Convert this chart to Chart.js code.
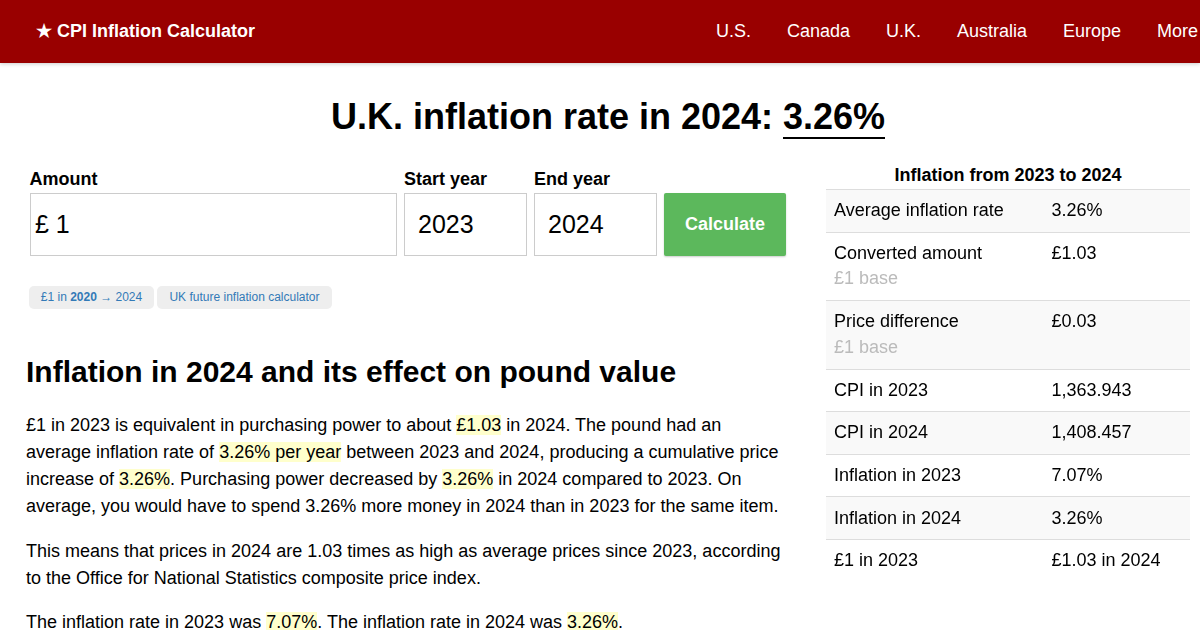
<!DOCTYPE html>
<html lang="en">
<head>
  <meta charset="UTF-8" />
  <title>U.K. inflation rate in 2024: 3.26%</title>
  <script src="https://cdn.jsdelivr.net/npm/chart.js"></script>
  <style>
    html, body { margin: 0; padding: 0; width: 1200px; height: 630px; overflow: hidden; background: #fff; }
    body { font: 18px/27px "Liberation Sans", Arial, sans-serif; color: #000; position: relative; }
    .abs { position: absolute; white-space: nowrap; }
    #nav { left: 0; top: 0; width: 1200px; height: 63px; background: #990000; color: #fff; box-shadow: 0 1px 4px rgba(0,0,0,.2); }
    #brand { left: 36px; top: 18px; font-weight: bold; }
    .link { top: 18px; }
    h1 { margin: 0; left: 0; top: 94px; font-size: 36px; line-height: 46px; text-align: center; width: 1216px; }
    h1 span { border-bottom: 2px solid #000; }
    label { font-weight: bold; top: 166px; }
    .box { top: 193px; height: 61px; border: 1px solid #ccc; font-size: 25px; line-height: 61px; box-sizing: content-box; }
    #calc { left: 664px; top: 193px; width: 122px; height: 63px; line-height: 62px; background: #5cb85c; color: #fff; font-weight: bold; text-align: center; border-radius: 2px; box-shadow: 0 1px 2px rgba(0,0,0,.2); }
    .tag { top: 286px; height: 23px; line-height: 22px; font-size: 12px; color: #337ab7; background: #eee; border-radius: 5px; text-align: center; }
    h2 { margin: 0; left: 26px; top: 353px; font-size: 30px; line-height: 38px; }
    p { margin: 0; left: 26px; }
    mark { background: #ffc; color: inherit; }
    #tableTitle { left: 826px; width: 364px; top: 162px; text-align: center; font-weight: bold; }
    canvas { position: absolute; left: 826px; }
  </style>
</head>
<body>
  <div id="nav" class="abs"></div>
  <div id="brand" class="abs" style="color:#fff">★ CPI Inflation Calculator</div>
  <div class="abs link" style="left:716px;color:#fff">U.S.</div>
  <div class="abs link" style="left:787px;color:#fff">Canada</div>
  <div class="abs link" style="left:886px;color:#fff">U.K.</div>
  <div class="abs link" style="left:957px;color:#fff">Australia</div>
  <div class="abs link" style="left:1063px;color:#fff">Europe</div>
  <div class="abs link" style="left:1157px;color:#fff">More</div>

  <h1 class="abs">U.K. inflation rate in 2024: <span>3.26%</span></h1>

  <label class="abs" style="left:29.5px">Amount</label>
  <label class="abs" style="left:404px">Start year</label>
  <label class="abs" style="left:534px">End year</label>
  <div class="abs box" style="left:30px;width:365px;text-indent:4px">£ 1</div>
  <div class="abs box" style="left:404px;width:121px;text-indent:13px">2023</div>
  <div class="abs box" style="left:534px;width:121px;text-indent:13px">2024</div>
  <div id="calc" class="abs">Calculate</div>

  <div class="abs tag" style="left:29px;width:125px">£1 in <b>2020</b> → 2024</div>
  <div class="abs tag" style="left:157px;width:175px">UK future inflation calculator</div>

  <h2 class="abs">Inflation in 2024 and its effect on pound value</h2>

  <p class="abs" style="top:412px">£1 in 2023 is equivalent in purchasing power to about <mark>£1.03</mark> in 2024. The pound had an<br>average inflation rate of <mark>3.26% per year</mark> between 2023 and 2024, producing a cumulative price<br>increase of <mark>3.26%</mark>. Purchasing power decreased by <mark>3.26%</mark> in 2024 compared to 2023. On<br>average, you would have to spend 3.26% more money in 2024 than in 2023 for the same item.</p>
  <p class="abs" style="top:538px">This means that prices in 2024 are 1.03 times as high as average prices since 2023, according<br>to the Office for National Statistics composite price index.</p>
  <p class="abs" style="top:609px">The inflation rate in 2023 was <mark>7.07%</mark>. The inflation rate in 2024 was <mark>3.26%</mark>.</p>

  <div id="tableTitle" class="abs">Inflation from 2023 to 2024</div>
  <canvas id="rowsTop" style="top:189px;width:364px;height:44px" width="364" height="44"></canvas>
  <canvas id="rowsTall" style="top:232px;width:364px;height:137px" width="364" height="137"></canvas>
  <canvas id="rowsRest" style="top:369px;width:364px;height:213px" width="364" height="213"></canvas>

  <script>
    // the side table is the only data on this page, so chart.js draws that
    const rowLabels = ['Average inflation rate', 'Converted amount', 'Price difference', 'CPI in 2023', 'CPI in 2024', 'Inflation in 2023', 'Inflation in 2024', '£1 in 2023'];
    const rowNotes = ['', '£1 base', '£1 base', '', '', '', '', ''];
    const rowValues = ['3.26%', '£1.03', '£0.03', '1,363.943', '1,408.457', '7.07%', '3.26%', '£1.03 in 2024'];
    const rowFill = [1, 1, 1, 1, 1, 1, 1, 1];

    const FONT = '18px "Liberation Sans"';

    const cellText = {
      id: 'cellText',
      afterDatasetsDraw(chart, args, opts) {
        const { ctx, scales: { y } } = chart;
        ctx.save();
        ctx.font = FONT;
        ctx.textBaseline = 'middle';
        for (let i = 0; i < opts.count; i++) {
          const n = i + opts.first;
          const mid = y.getPixelForValue(i);
          const top = rowNotes[n] ? mid - 12.7 : mid + 0.5;
          ctx.fillStyle = '#000';
          ctx.fillText(rowLabels[n], 8, top);
          ctx.fillText(rowValues[n], 225.5, top);
          if (rowNotes[n]) {
            ctx.fillStyle = '#bbb';
            ctx.fillText(rowNotes[n], 8, mid + 13);
          }
        }
        ctx.restore();
      }
    };

    function drawRows(id, first, count) {
      const idx = Array.from({ length: count }, (_, i) => i + first);
      new Chart(document.getElementById(id), {
        type: 'bar',
        data: {
          labels: idx.map(i => rowLabels[i]),
          datasets: [{
            data: idx.map(i => rowFill[i]),
            backgroundColor: idx.map(i => (i % 2 === 0 ? '#f9f9f9' : '#fff')),
            barPercentage: 1,
            categoryPercentage: 1
          }]
        },
        options: {
          indexAxis: 'y',
          responsive: false,
          animation: false,
          layout: { padding: 0 },
          plugins: {
            legend: { display: false },
            tooltip: { enabled: false },
            cellText: { first, count }
          },
          scales: {
            x: { display: false, min: 0, max: 1 },
            y: {
              offset: true,
              border: { display: false },
              grid: { color: '#ddd', drawTicks: false, z: 1 },
              ticks: { display: false }
            }
          }
        },
        plugins: [cellText]
      });
    }

    drawRows('rowsTop', 0, 1);
    drawRows('rowsTall', 1, 2);
    drawRows('rowsRest', 3, 5);
  </script>
</body>
</html>
